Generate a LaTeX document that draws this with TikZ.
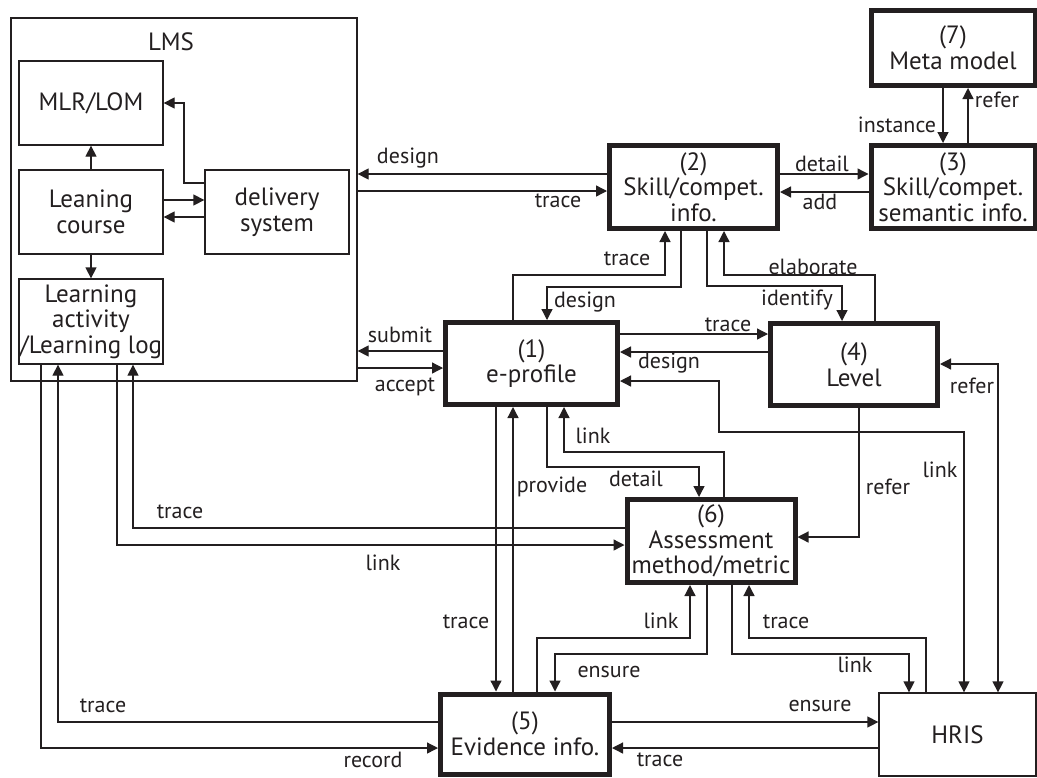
\documentclass[tikz,border=0pt]{standalone}
\usepackage{fontspec}
\setmainfont{PT Sans}
\usetikzlibrary{arrows.meta}
\definecolor{ink}{HTML}{231F20}
\newcommand{\boxfont}{\fontsize{12.5}{12.8}\selectfont}
\newcommand{\lblfont}{\fontsize{11}{12}\selectfont}

\begin{document}
\begin{tikzpicture}[x=0.5pt,y=-0.5pt,
  box/.style={draw=ink,line width=0.65pt,inner sep=0pt,align=center,text=ink,font=\boxfont},
  keybox/.style={box,line width=2.5pt},
  lbl/.style={text=ink,font=\lblfont,inner sep=0pt},
  wire/.style={draw=ink,line width=0.65pt},
  >={Triangle[length=5.5pt,width=5.5pt]}]
\useasboundingbox (0,0) rectangle (1037,777);

% LMS and its parts
\node[box,minimum width=173pt,minimum height=181.5pt] (lms) at (184,199.5) {};
\node[lbl,font=\boxfont] (lmstitle) at (171,42) {LMS};
\node[box,minimum width=72pt,minimum height=42pt] (mlr) at (91,103) {MLR/LOM};
\node[box,minimum width=72pt,minimum height=42pt] (course) at (91,212) {Leaning\\course};
\node[box,minimum width=72pt,minimum height=42pt] (delivery) at (277,212) {delivery\\system};
\node[box,minimum width=72pt,minimum height=42.5pt] (activity) at (91,321.5) {Learning\\activity\\/Learning log};

% numbered parts
\node[keybox,minimum width=84pt,minimum height=41.5pt] (skill) at (693.5,187) {(2)\\Skill/compet.\\info.};
\node[keybox,minimum width=82pt,minimum height=41.5pt] (semantic) at (953,187) {(3)\\Skill/compet.\\semantic info.};
\node[keybox,minimum width=82pt,minimum height=37.5pt] (meta) at (953,48) {(7)\\Meta model};
\node[keybox,minimum width=86pt,minimum height=41pt] (eprofile) at (531.5,363.5) {(1)\\e-profile};
\node[keybox,minimum width=83.5pt,minimum height=41pt] (level) at (854,364.5) {(4)\\Level};
\node[keybox,minimum width=84pt,minimum height=41.5pt] (assess) at (711,541) {(6)\\Assessment\\method/metric};
\node[keybox,minimum width=84.5pt,minimum height=40pt] (evidence) at (525,734) {(5)\\Evidence info.};
\node[box,minimum width=78.5pt,minimum height=41.5pt] (hris) at (957.5,734.5) {HRIS};

% inside LMS
\draw[wire,->] (delivery.west |- 0,183) -| (184,103) -- (mlr.east);
\draw[wire,->] (course.north) -- (mlr.south);
\draw[wire,->] (course.east |- 0,200) -- (delivery.west |- 0,200);
\draw[wire,->] (delivery.west |- 0,217) -- (course.east |- 0,217);
\draw[wire,->] (course.south) -- (activity.north);

% LMS - (2), (1)
\draw[wire,->] (skill.west |- 0,174) -- (lms.east |- 0,174) node[lbl] at (408,158) {design};
\draw[wire,->] (lms.east |- 0,191) -- (skill.west |- 0,191) node[lbl] at (558,201) {trace};
\draw[wire,->] (eprofile.west |- 0,351) -- (lms.east |- 0,351) node[lbl] at (400,335) {submit};
\draw[wire,->] (lms.east |- 0,368) -- (eprofile.west |- 0,368) node[lbl] at (405,387) {accept};

% (1) - (2)
\draw[wire,->] (skill.south -| 681,0) |- (547,287) -- (eprofile.north -| 547,0) node[lbl] at (585,302) {design};
\draw[wire,->] (eprofile.north -| 513,0) |- (665,275) -- (skill.south -| 665,0) node[lbl] at (627,259) {trace};

% (2) - (3) - (7)
\draw[wire,->] (skill.east |- 0,174) -- (semantic.west |- 0,174) node[lbl] at (822,164) {detail};
\draw[wire,->] (semantic.west |- 0,192) -- (skill.east |- 0,192) node[lbl] at (820,202) {add};
\draw[wire,->] (meta.south -| 943,0) -- (semantic.north -| 943,0) node[lbl] at (897,125) {instance};
\draw[wire,->] (semantic.north -| 968,0) -- (meta.south -| 968,0) node[lbl] at (997,100) {refer};

% (2) - (4)
\draw[wire,->] (skill.south -| 707,0) |- (842,286) -- (level.north -| 842,0) node[lbl] at (797,300) {identify};
\draw[wire,->] (level.north -| 875,0) |- (724,275) -- (skill.south -| 724,0) node[lbl] at (813,267) {elaborate};

% (1) - (4)
\draw[wire,->] (eprofile.east |- 0,334) -- (level.west |- 0,334) node[lbl] at (728,325) {trace};
\draw[wire,->] (level.west |- 0,352) -- (eprofile.east |- 0,352) node[lbl] at (669,363) {design};

% to HRIS from above
\draw[wire,<->] (eprofile.east |- 0,381) -| (719,432) -| (hris.north -| 964,0) node[lbl] at (940,470) {link};
\draw[wire,<->] (level.east |- 0,364) -| (hris.north -| 998,0) node[lbl] at (972,386) {refer};
\draw[wire,->] (level.south -| 859,0) |- (assess.east |- 0,537) node[lbl] at (888,487) {refer};

% (1) - (5), (6)
\draw[wire,->] (eprofile.south -| 496,0) -- (evidence.north -| 496,0) node[lbl] at (466,622) {trace};
\draw[wire,->] (evidence.north -| 513,0) -- (eprofile.south -| 513,0) node[lbl] at (552,487) {provide};
\draw[wire,->] (eprofile.south -| 547,0) |- (699,467) -- (assess.north -| 699,0) node[lbl] at (636,479) {detail};
\draw[wire,->] (assess.north -| 724,0) |- (564,452) -- (eprofile.south -| 564,0) node[lbl] at (593,436) {link};

% learning activity
\draw[wire,->] (activity.south -| 41,0) |- (evidence.west |- 0,748) node[lbl] at (373,760) {record};
\draw[wire,->] (evidence.west |- 0,722) -| (activity.south -| 58,0) node[lbl] at (103,706) {trace};
\draw[wire,->] (activity.south -| 117,0) |- (assess.west |- 0,545) node[lbl] at (383,563) {link};
\draw[wire,->] (assess.west |- 0,528) -| (activity.south -| 133,0) node[lbl] at (180,512) {trace};

% (6) - (5), HRIS
\draw[wire,->] (assess.south -| 707,0) |- (555,654) -- (evidence.north -| 555,0) node[lbl] at (609,672) {ensure};
\draw[wire,->] (evidence.north -| 537,0) |- (690,638) -- (assess.south -| 690,0) node[lbl] at (661,621) {link};
\draw[wire,->] (assess.south -| 732,0) |- (909,654) -- (hris.north -| 909,0) node[lbl] at (855,665) {link};
\draw[wire,->] (hris.north -| 926,0) |- (749,638) -- (assess.south -| 749,0) node[lbl] at (786,622) {trace};

% (5) - HRIS
\draw[wire,->] (evidence.east |- 0,722) -- (hris.west |- 0,722) node[lbl] at (820,706) {ensure};
\draw[wire,->] (hris.west |- 0,748) -- (evidence.east |- 0,748) node[lbl] at (660,760) {trace};
\end{tikzpicture}
\end{document}
